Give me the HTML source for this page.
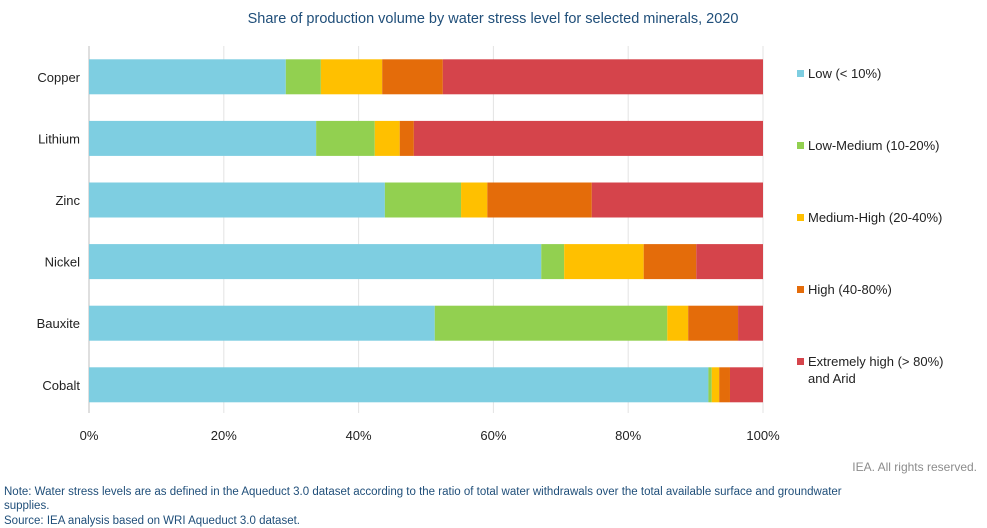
<!DOCTYPE html>
<html><head><meta charset="utf-8"><style>
body{margin:0;background:#fff;font-family:"Liberation Sans",Arial,sans-serif;}
#wrap{position:relative;width:987px;height:528px;overflow:hidden;}
</style></head><body>
<div id="wrap">
<svg id="chart" width="987" height="528">
<text x="493" y="23" text-anchor="middle" font-size="14.5" fill="#1f4e79">Share of production volume by water stress level for selected minerals, 2020</text>
<g id="grid"></g>
<g id="bars"></g>
<g id="yax"></g>
<g id="xax"></g>
<g id="legend"></g>
<text x="977" y="471" text-anchor="end" font-size="12" fill="#8c8c8c">IEA. All rights reserved.</text>
<text x="4" y="495" font-size="11.5" fill="#1f4e79">Note: Water stress levels are as defined in the Aqueduct 3.0 dataset according to the ratio of total water withdrawals over the total available surface and groundwater</text>
<text x="4" y="509" font-size="11.5" fill="#1f4e79">supplies.</text>
<text x="4" y="524" font-size="11.5" fill="#1f4e79">Source: IEA analysis based on WRI Aqueduct 3.0 dataset.</text>
</svg>
</div>
<script>
const categories=["Copper","Lithium","Zinc","Nickel","Bauxite","Cobalt"];
const seriesNames=["Low (< 10%)","Low-Medium (10-20%)","Medium-High (20-40%)","High (40-80%)","Extremely high (> 80%) and Arid"];
const low=[29.2,33.7,43.9,67.1,51.3,91.9];
const lowMed=[5.2,8.7,11.3,3.4,34.5,0.5];
const medHigh=[9.1,3.7,3.9,11.8,3.1,1.1];
const high=[9.0,2.1,15.5,7.8,7.4,1.6];
const extreme=[47.5,51.8,25.4,9.9,3.7,4.9];
const ticks=[0,20,40,60,80,100];
const colors=["#7ecee1","#92d050","#ffc000","#e46c0a","#d5444b"];
const NS="http://www.w3.org/2000/svg";
const x0=89,x1=763,yTop=46,rowH=61.6,barH=35;
const xs=v=>x0+(x1-x0)*v/100;
const yc=i=>yTop+rowH*(i+0.5);
function mk(t,a,p){const e=document.createElementNS(NS,t);for(const k in a)e.setAttribute(k,a[k]);p.appendChild(e);return e;}
const grid=document.getElementById('grid'),bars=document.getElementById('bars'),yax=document.getElementById('yax'),xax=document.getElementById('xax'),leg=document.getElementById('legend');
ticks.forEach(t=>{
  const l=mk('line',{x1:xs(t),x2:xs(t),y1:46,y2:413,stroke:t===0?'#bfbfbf':'#e3e3e3','stroke-width':1},grid);
  
  
  const tx=mk('text',{x:xs(t),y:440,'text-anchor':'middle','font-size':13,fill:'#222'},xax);
  tx.textContent=t+'%';
  
  
});
const series=[low,lowMed,medHigh,high,extreme];
categories.forEach((c,i)=>{
  let acc=0;
  series.forEach((s,j)=>{
    const r=mk('rect',{x:xs(acc),y:yc(i)-barH/2,width:xs(acc+s[i])-xs(acc),height:barH,fill:colors[j]},bars);
    
    
    acc+=s[i];
  });
  const t=mk('text',{x:80,y:yc(i)+5,'text-anchor':'end','font-size':13,fill:'#222'},yax);
  t.textContent=c;
  
  
});
const legY=[74,146,218,290,362];
seriesNames.forEach((n,j)=>{
  const g=mk('g',{},leg);
  
  
  mk('rect',{x:797,y:legY[j]-4,width:7,height:7,fill:colors[j]},g);
  const t=mk('text',{x:808,y:legY[j]+4,'font-size':13,fill:'#222'},g);
  if(j===4){t.textContent='Extremely high (> 80%)';const t2=mk('text',{x:808,y:legY[j]+21,'font-size':13,fill:'#222'},g);t2.textContent='and Arid';}
  else t.textContent=n;
});
</script>
</body></html>
